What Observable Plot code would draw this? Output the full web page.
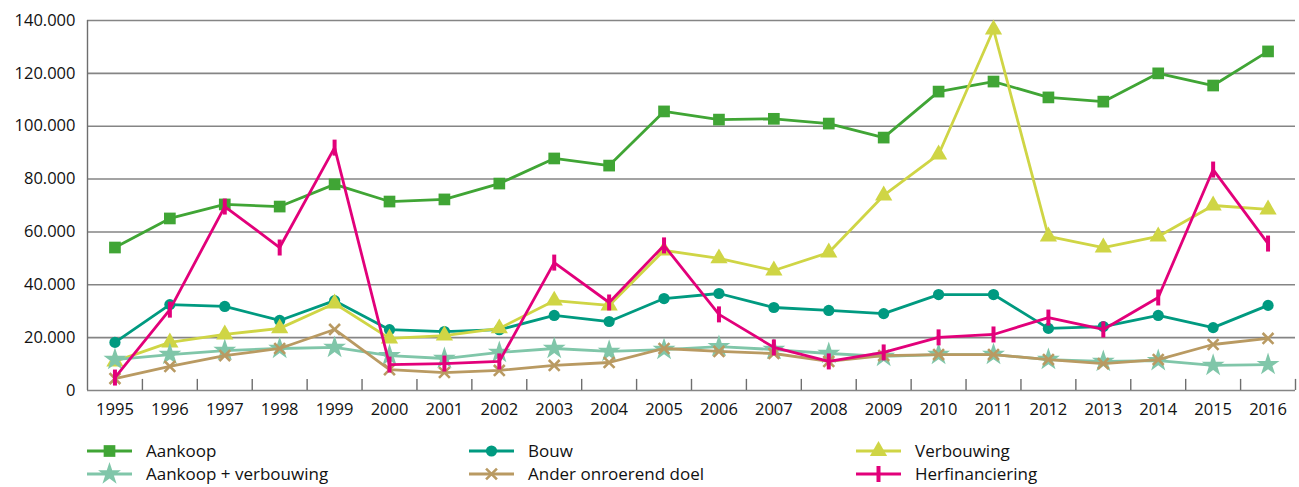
<!DOCTYPE html>
<html>
<head>
<meta charset="utf-8">
<script src="https://cdn.jsdelivr.net/npm/d3@7"></script>
<script src="https://cdn.jsdelivr.net/npm/@observablehq/plot@0.6"></script>
<style>
  html, body { margin: 0; padding: 0; background: #fff; }
  #chart { width: 1299px; height: 487px; position: relative; font-family: "Open Sans", sans-serif; }
  #legend { position: absolute; left: 0; top: 430px; }
</style>
</head>
<body>
<div id="chart"></div>
<script>
const years = [1995,1996,1997,1998,1999,2000,2001,2002,2003,2004,2005,2006,2007,2008,2009,2010,2011,2012,2013,2014,2015,2016];
const yTicks = [0,20000,40000,60000,80000,100000,120000,140000];

const aankoop = [54100,65100,70400,69600,78000,71500,72300,78300,87800,85100,105600,102500,102800,101000,95700,113100,116900,110900,109300,120000,115400,128300];
const bouw = [18200,32500,31800,26500,34000,23000,22300,23000,28400,26100,34800,36700,31400,30300,29100,36300,36300,23500,24200,28400,23800,32200];
const verbouwing = [11000,18200,21200,23500,32900,19700,20800,23500,34000,32200,53000,50000,45400,52200,73800,89300,136600,58300,54100,58300,70000,68500];
const aankoopVerbouwing = [11700,13600,15100,15900,16300,13200,12100,14400,15900,14800,15500,16600,15500,14000,12900,13600,13600,11700,11000,11300,9500,9800];
const anderDoel = [4500,9100,13200,15900,23100,7900,6800,7600,9500,10600,15900,14800,14000,11000,13200,13600,13600,11700,10200,11700,17400,19700];
const herfinanciering = [4900,30600,69600,54100,91900,9800,10200,11000,48400,33300,54900,28800,16300,11000,14400,20100,21200,27600,23100,35200,83600,55600];

const seriesNames = ["Aankoop","Bouw","Verbouwing","Aankoop + verbouwing","Ander onroerend doel","Herfinanciering"];
const seriesValues = [aankoop, bouw, verbouwing, aankoopVerbouwing, anderDoel, herfinanciering];
const seriesColors = ["#40a535","#009a80","#cfd545","#80c6a9","#b99a62","#e2007a"];

const barSymbol = { draw(ctx, size) { ctx.rect(-2, -8, 4, 16); } };
const seriesSymbols = ["square","circle","triangle","star","times",barSymbol];
const seriesR = [6.6, 5.6, 6.4, 7.2, 5, 5];

const fmt = d3.formatLocale({decimal: ",", thousands: ".", grouping: [3], currency: ["€",""]}).format(",");

const bounds = years.map(y => y + 0.5);

const marks = [
  Plot.ruleY(yTicks, {stroke: "#858585", strokeWidth: 1.6}),
  Plot.ruleX([years[0] - 0.5], {y1: 0, y2: 140000, stroke: "#6e6e6e", strokeWidth: 1.4}),
  Plot.ruleX(bounds, {y1: 0, y2: 4200, stroke: "#6e6e6e", strokeWidth: 1.4}),
  Plot.axisY({ticks: yTicks, tickFormat: fmt, tickSize: 0, tickPadding: 12, fontSize: 16.5, fill: "#111", label: null}),
  Plot.axisX({ticks: years, tickFormat: d => String(d), tickSize: 0, tickPadding: 13, fontSize: 16.5, fill: "#111", label: null})
];

seriesNames.forEach((name, k) => {
  const rows = years.map((year, i) => ({year, value: seriesValues[k][i], name}));
  marks.push(Plot.line(rows, {x: "year", y: "value", stroke: seriesColors[k], strokeWidth: 2.8}));
  const sym = seriesSymbols[k];
  if (sym === "times") {
    marks.push(Plot.dot(rows, {x: "year", y: "value", symbol: sym, r: seriesR[k], stroke: seriesColors[k], strokeWidth: 2.6}));
  } else {
    marks.push(Plot.dot(rows, {x: "year", y: "value", symbol: sym, r: seriesR[k], fill: seriesColors[k], stroke: "none"}));
  }
});

const plot = Plot.plot({
  width: 1299,
  height: 430,
  marginLeft: 87,
  marginRight: 4,
  marginTop: 20,
  marginBottom: 40,
  style: {fontFamily: "Open Sans, sans-serif", background: "#fff"},
  x: {type: "linear", domain: [years[0] - 0.5, years[years.length - 1] + 0.5], axis: null, label: null},
  y: {type: "linear", domain: [0, 140000], axis: null, label: null},
  marks
});
document.getElementById("chart").appendChild(plot);

// Legend
const legendCols = [87, 469, 856];
const legendRows = [21, 44];
const svg = d3.select("#chart").append("svg")
  .attr("id", "legend").attr("width", 1299).attr("height", 57)
  .style("font-family", "Open Sans, sans-serif");
seriesNames.forEach((name, k) => {
  const col = [0,1,2,0,1,2][k], row = [0,0,0,1,1,1][k];
  const x0 = legendCols[col], y0 = legendRows[row];
  const g = svg.append("g").attr("transform", `translate(${x0},${y0})`);
  g.append("line").attr("x1", 0).attr("x2", 45).attr("y1", 0).attr("y2", 0)
    .attr("stroke", seriesColors[k]).attr("stroke-width", 2.8);
  const sym = seriesSymbols[k];
  const r = seriesR[k];
  const type = typeof sym === "string"
    ? {square: d3.symbolSquare, circle: d3.symbolCircle, triangle: d3.symbolTriangle, star: d3.symbolStar, times: d3.symbolTimes}[sym]
    : sym;
  const p = g.append("path").attr("transform", "translate(22.5,0)")
    .attr("d", d3.symbol(type, Math.PI * r * r)());
  if (sym === "times") p.attr("fill", "none").attr("stroke", seriesColors[k]).attr("stroke-width", 2.6);
  else p.attr("fill", seriesColors[k]);
  g.append("text").attr("x", 59).attr("y", 0).attr("dy", "0.35em")
    .attr("font-size", 17).attr("fill", "#111").text(name);
});
</script>
</body>
</html>
